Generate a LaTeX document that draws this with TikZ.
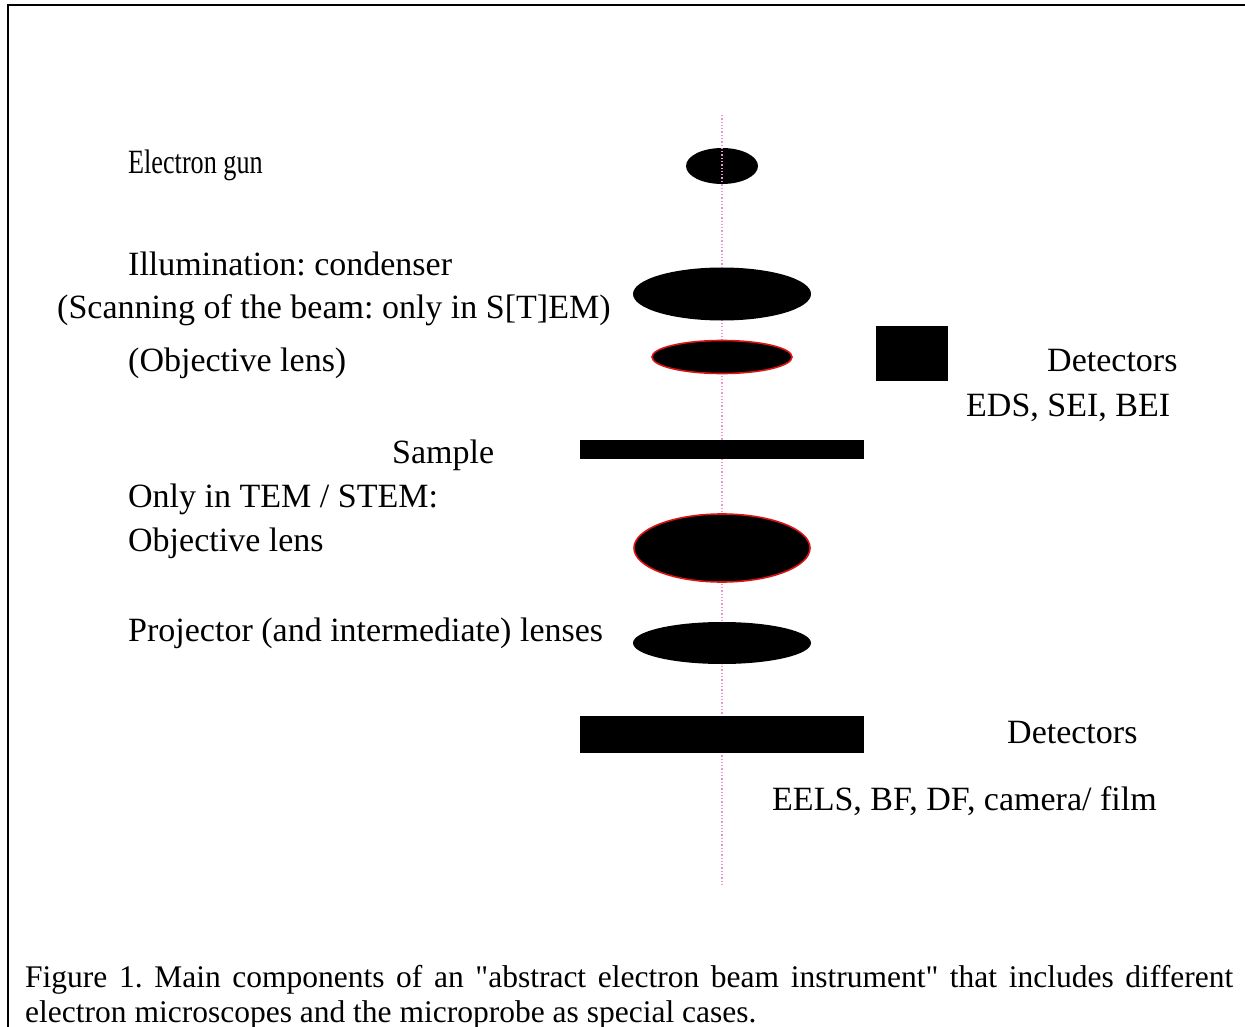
\documentclass[tikz,border=0pt]{standalone}
\usepackage{fontspec}
\setmainfont{Liberation Serif}
\newfontfamily\capfont{Liberation Serif}
\usetikzlibrary{shapes.geometric}
\definecolor{axispink}{RGB}{232,150,205}
\definecolor{lensred}{RGB}{220,20,20}
\frenchspacing
\begin{document}
\begin{tikzpicture}[x=1pt,y=-1pt,
  lbl/.style={anchor=base west,inner sep=0pt,font=\fontsize{34}{40}\selectfont},
  captext/.style={anchor=base west,inner sep=0pt,font=\capfont\fontsize{31.5}{36}\selectfont},
  lens/.style={ellipse,fill=black,inner sep=0pt},
  redlens/.style={lens,draw=lensred,line width=1.6pt},
  bar/.style={rectangle,fill=black,inner sep=0pt},
  axisline/.style={draw=axispink,dotted,line width=1.3pt}]
\useasboundingbox (0,0) rectangle (1245,1027);
% frame
\draw[line width=2.4pt] (1245,5) -- (8,5) -- (8,1027);
% optical axis
\coordinate (axtop) at (722,115);
\coordinate (axbot) at (722,887);
\draw[axisline] (axtop) -- (axbot);
% components
\node[lens,minimum width=72pt,minimum height=36pt] (gun) at (722,166) {};
\node[lens,minimum width=178pt,minimum height=53pt] (cond) at (722,294) {};
\node[redlens,minimum width=140pt,minimum height=33pt] (obj1) at (722,357) {};
\node[bar,minimum width=72pt,minimum height=55pt] (det1) at (912,353.5) {};
\node[bar,minimum width=284pt,minimum height=19pt] (sample) at (722,449.5) {};
\node[redlens,minimum width=176pt,minimum height=68pt] (obj2) at (722,548) {};
\node[lens,minimum width=178pt,minimum height=42pt] (proj) at (722,643) {};
\node[bar,minimum width=284pt,minimum height=37pt] (det2) at (722,734.5) {};
\draw[axisline] (gun.north) -- (gun.south);
% labels
\node[lbl] (tgun) at (128,174) {\scalebox{0.77}[1]{Electron gun}};
\node[lbl] (tcond) at (128,275) {Illumination: condenser};
\node[lbl] (tscan) at (57,318) {(Scanning of the beam: only in S[T]EM)};
\node[lbl] (tobj1) at (128,371) {(Objective lens)};
\node[lbl] (tdet1) at (1047,371) {Detectors};
\node[lbl] (tdet1b) at (966,416) {EDS, SEI, BEI};
\node[lbl] (tsample) at (392,463) {Sample};
\node[lbl] (ttem) at (128,507) {Only in TEM / STEM:};
\node[lbl] (tobj2) at (128,551) {Objective lens};
\node[lbl] (tproj) at (128,641) {Projector (and intermediate) lenses};
\node[lbl] (tdet2) at (1007,743) {Detectors};
\node[lbl] (tdet2b) at (772,810) {EELS, BF, DF, camera/ film};
% caption
\node[captext] (cap1) at (25,987) {\makebox[1208pt][s]{Figure 1. Main components of an "abstract electron beam instrument" that includes different}};
\node[captext] (cap2) at (25,1022) {electron microscopes and the microprobe as special cases.};
\end{tikzpicture}
\end{document}
